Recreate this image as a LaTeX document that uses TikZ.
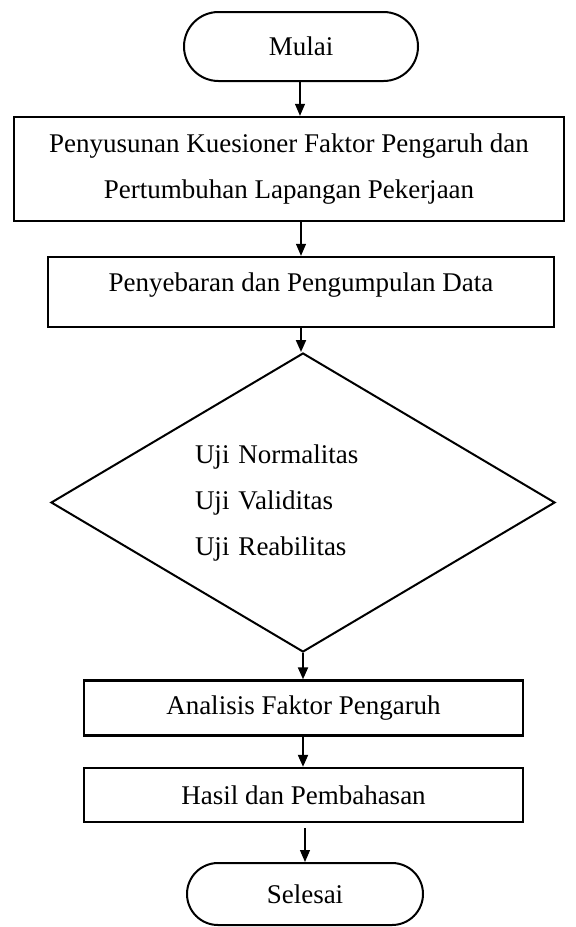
\documentclass[tikz,border=0pt]{standalone}
\usepackage{fontspec}
\setmainfont{Liberation Serif}
\usetikzlibrary{shapes.geometric,arrows.meta}
\newcommand{\pxunit}{0.5pt}

\begin{document}
\begin{tikzpicture}[x=\pxunit, y=-\pxunit, font=\fontsize{13.5}{23}\selectfont,
    terminal/.style={draw, line width=1pt, inner sep=0pt},
    process/.style={draw, line width=1.2pt, inner sep=0pt, align=center},
    decision/.style={draw, diamond, line width=1pt, inner sep=0pt, aspect=1.686},
    flow/.style={-{Triangle[length=6pt,width=5pt]}, line width=0.6pt},
    boldflow/.style={flow, line width=1pt}]

    \useasboundingbox (0,0) rectangle (576,927);

    % Start and end.
    \node[terminal, minimum width=117pt, minimum height=34.5pt, rounded corners=17.25pt] (mulai) at (301,46.5) {Mulai};
    \node[terminal, minimum width=118pt, minimum height=31pt, rounded corners=15.5pt] (selesai) at (305,894) {Selesai};

    % Steps.
    \node[process, minimum width=275pt, minimum height=52pt] (susun) at (289,169)
        {Penyusunan Kuesioner Faktor Pengaruh dan\\ Pertumbuhan Lapangan Pekerjaan};
    \node[process, minimum width=253pt, minimum height=35pt, text height=9.3pt, text depth=9.8pt] (sebar) at (301,292)
        {Penyebaran dan Pengumpulan Data};
    \node[decision, minimum width=252pt, minimum height=149.5pt, text width=108pt, align=left] (uji) at (303,502.5)
        {Uji Normalitas\\ Uji Validitas\\ Uji Reabilitas};
    \node[process, minimum width=219.5pt, minimum height=27.5pt] (analisis) at (303.5,708) {Analisis Faktor Pengaruh};
    \node[process, minimum width=219.5pt, minimum height=27pt] (hasil) at (303.5,795) {Hasil dan Pembahasan};

    % Arrows.
    \draw [flow] (mulai.south -| 300,0) -- (susun.north -| 300,0);
    \draw [flow] (susun.south -| sebar) -- (sebar);
    \draw [boldflow] (sebar) -- (sebar |- uji.north);
    \draw [boldflow] (uji) -- (uji |- analisis.north);
    \draw [boldflow] (analisis.south -| uji) -- (uji |- hasil.north);
    \draw [flow, shorten <=2.5pt] (hasil.south -| selesai) -- (selesai);

\end{tikzpicture}
\end{document}
